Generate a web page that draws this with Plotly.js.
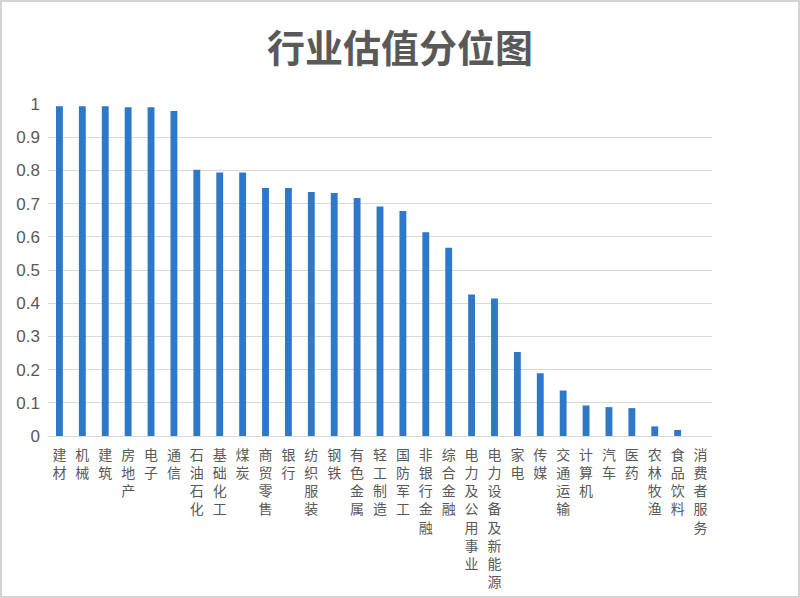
<!DOCTYPE html>
<html>
<head>
<meta charset="utf-8">
<script src="https://cdn.plot.ly/plotly-3.0.1.min.js"></script>
<style>
  body { margin: 0; background: #fff; }
  #wrap { position: relative; width: 800px; height: 598px; }
  #chart { width: 800px; height: 598px; }
  #frame { position: absolute; left: 0; top: 0; width: 800px; height: 598px; box-sizing: border-box;
           border: 2px solid #d4d4d4; pointer-events: none; }
</style>
</head>
<body>
<div id="wrap">
  <div id="chart"></div>
  <div id="frame"></div>
</div>
<script>
// industries and their valuation percentile
const industries = ['建材', '机械', '建筑', '房地产', '电子', '通信', '石油石化', '基础化工', '煤炭',
  '商贸零售', '银行', '纺织服装', '钢铁', '有色金属', '轻工制造', '国防军工', '非银行金融', '综合金融',
  '电力及公用事业', '电力设备及新能源', '家电', '传媒', '交通运输', '计算机', '汽车', '医药',
  '农林牧渔', '食品饮料', '消费者服务'];
const percentile = [0.993, 0.993, 0.993, 0.99, 0.99, 0.979, 0.802, 0.794, 0.794,
  0.747, 0.747, 0.735, 0.732, 0.717, 0.691, 0.678, 0.614, 0.567,
  0.426, 0.414, 0.253, 0.189, 0.137, 0.092, 0.087, 0.084,
  0.029, 0.018, 0];
const yTicks = [0, 0.1, 0.2, 0.3, 0.4, 0.5, 0.6, 0.7, 0.8, 0.9, 1];

// stack the characters vertically like the original labels
const verticalLabels = industries.map(s => s.split('').join('<br>'));

Plotly.newPlot('chart', [{
  x: industries,
  y: percentile,
  type: 'bar',
  width: 0.3,
  marker: { color: '#2D78C8', line: { color: '#1C5EA8', width: 0 } },
  hoverinfo: 'x+y'
}], {
  width: 800, height: 598,
  margin: { t: 104, b: 162, l: 48, r: 88 },
  paper_bgcolor: '#fff', plot_bgcolor: '#fff',
  title: {
    text: '<b>行业估值分位图</b>',
    x: 0.5, xref: 'container', xanchor: 'center', y: 0.918, yref: 'container', yanchor: 'middle',
    font: { family: 'Noto Sans CJK SC', size: 38, color: '#595959' }
  },
  font: { family: 'Noto Sans CJK SC', color: '#595959' },
  xaxis: {
    type: 'category',
    tickmode: 'array',
    tickvals: industries,
    ticktext: verticalLabels,
    tickangle: 0,
    tickfont: { size: 14, color: '#595959' },
    showgrid: false,
    showline: true, linecolor: '#d9d9d9', linewidth: 1,
    ticks: '',
    ticklabelstandoff: 6
  },
  yaxis: {
    range: [0, 1],
    tickmode: 'array',
    tickvals: yTicks,
    ticktext: yTicks.map(v => String(v)),
    tickfont: { family: 'Liberation Sans', size: 17, color: '#595959' },
    gridcolor: '#d9d9d9', gridwidth: 1,
    zeroline: false,
    showline: false,
    ticks: '',
    ticklabelstandoff: 7
  },
  showlegend: false,
  bargap: 0.7
}, { displayModeBar: false });
</script>
</body>
</html>
